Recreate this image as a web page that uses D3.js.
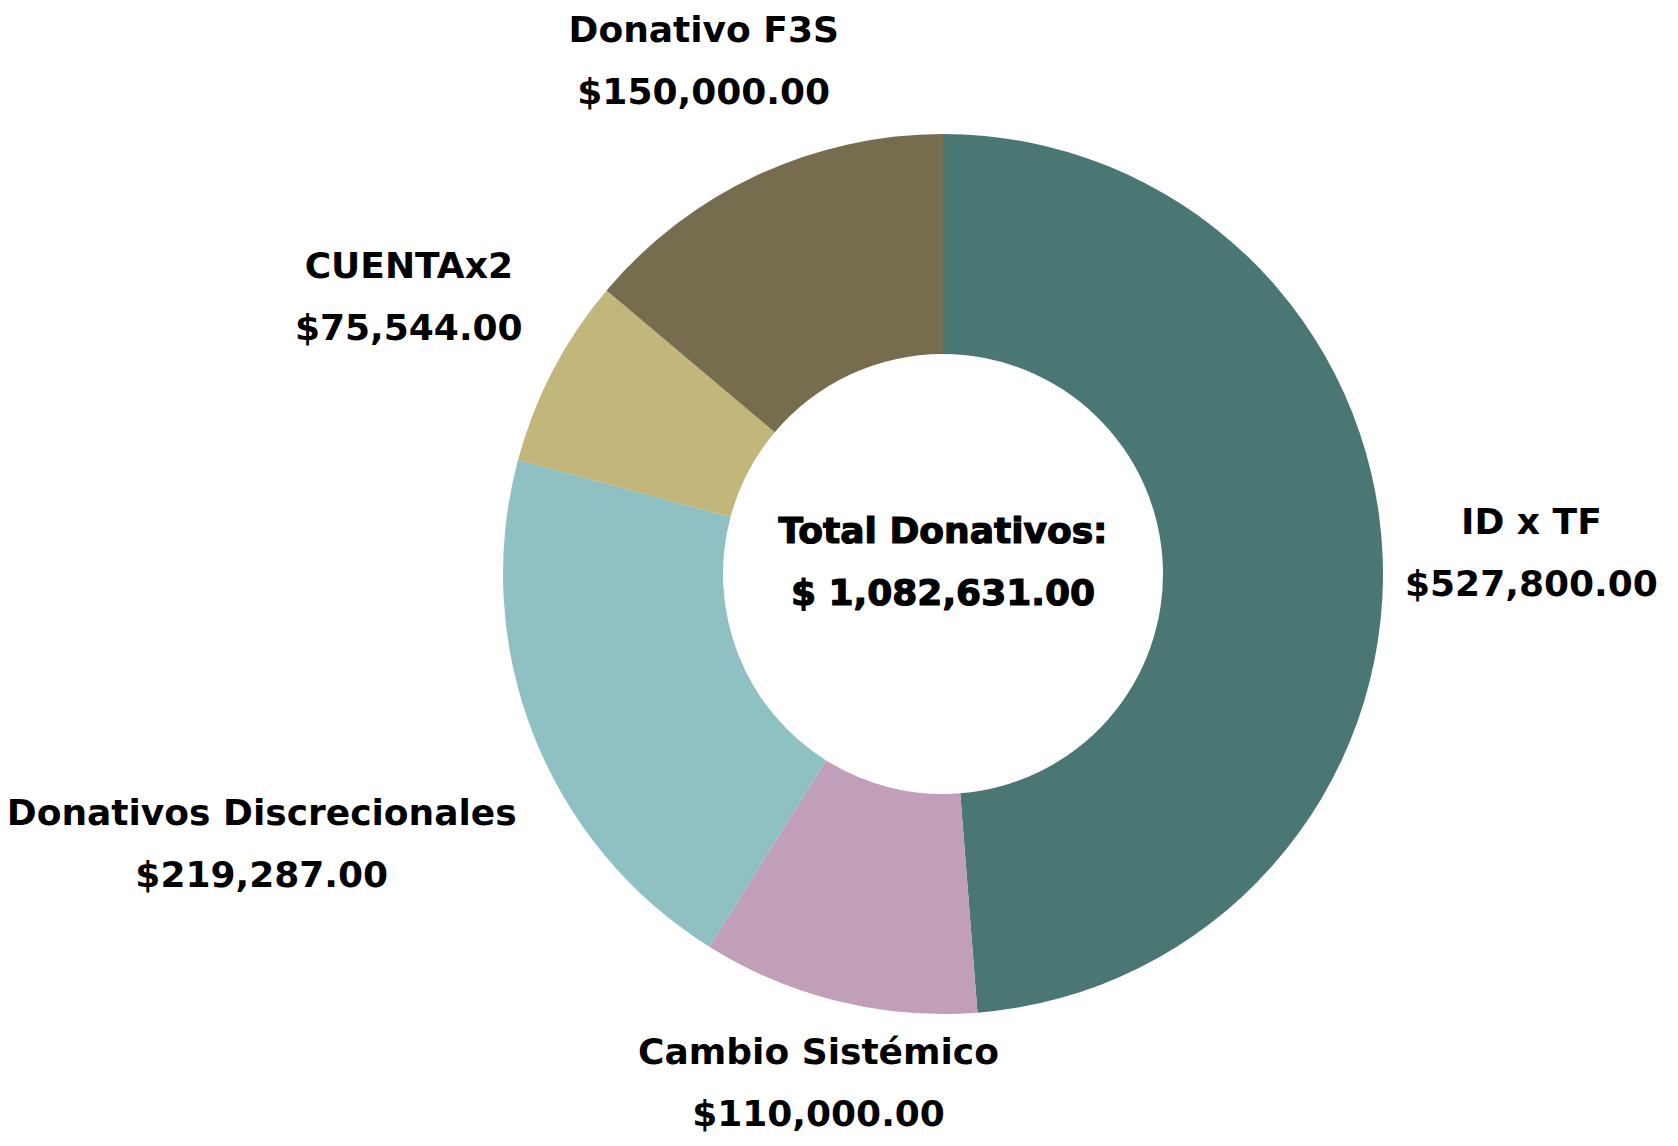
<!DOCTYPE html>
<html>
<head>
<meta charset="utf-8">
<script src="https://cdn.jsdelivr.net/npm/d3@7"></script>
<style>
  html, body { margin: 0; padding: 0; background: #fff; }
  svg text { font-family: "DejaVu Sans", "Noto Sans", sans-serif; fill: #000; font-weight: bold; }
</style>
</head>
<body>
<div id="chart"></div>
<script>
// data
var categories = ["ID x TF", "Cambio Sistémico", "Donativos Discrecionales", "CUENTAx2", "Donativo F3S"];
var amounts = [527800, 110000, 219287, 75544, 150000];
var sliceColors = ["#4a7674", "#c29fb8", "#8fc0c4", "#c3b67a", "#756d4e"];
var centerTitle = "Total Donativos:";

var width = 1678, height = 1146;
var cx = 943, cy = 574;
var outerR = 440, innerR = 220;
// label clearance from the ring: smaller when the box faces it with a side, larger at a corner
var edgeGap = 22, cornerGap = 41;
var lineGap = 62, blockHalf = 45;

var money = d3.format(",.2f");

var svg = d3.select("#chart").append("svg")
    .attr("width", width).attr("height", height)
    .attr("viewBox", "0 0 " + width + " " + height);

var g = svg.append("g").attr("transform", "translate(" + cx + "," + cy + ")");

var rows = categories.map(function(c, i) { return {name: c, value: amounts[i], color: sliceColors[i]}; });

var pie = d3.pie().value(function(d) { return d.value; }).sort(null);
var arc = d3.arc().innerRadius(innerR).outerRadius(outerR);
var arcs = pie(rows);

g.selectAll("path.slice").data(arcs).enter().append("path")
    .attr("class", "slice")
    .attr("d", arc)
    .style("fill", function(d) { return d.data.color; });

// two-line labels, pushed out along the slice mid-angle
var labels = g.selectAll("g.lbl").data(arcs).enter().append("g").attr("class", "lbl");
labels.append("text").attr("text-anchor", "middle").attr("y", blockHalf - lineGap)
    .style("font-size", "36px")
    .text(function(d) { return d.data.name; });
labels.append("text").attr("text-anchor", "middle").attr("y", blockHalf)
    .style("font-size", "36px")
    .text(function(d) { return "$" + money(d.data.value); });

labels.each(function(d) {
    var bb = this.getBBox();
    var a = (d.startAngle + d.endAngle) / 2;
    var ux = Math.sin(a), uy = -Math.cos(a);
    function clearance(dist) {
        var x0 = ux * dist + bb.x, x1 = x0 + bb.width;
        var y0 = uy * dist - blockHalf, y1 = uy * dist + blockHalf;
        var nx = Math.max(x0, Math.min(0, x1));
        var ny = Math.max(y0, Math.min(0, y1));
        var corner = (nx !== 0) && (ny !== 0);
        return Math.sqrt(nx * nx + ny * ny) - (corner ? cornerGap : edgeGap);
    }
    var lo = 0, hi = 1200;
    for (var k = 0; k < 40; k++) {
        var mid = (lo + hi) / 2;
        if (clearance(mid) < outerR) lo = mid; else hi = mid;
    }
    d3.select(this).attr("transform", "translate(" + (ux * hi) + "," + (uy * hi) + ")");
});

// centre total
var total = d3.sum(amounts);
g.append("text").attr("text-anchor", "middle").attr("y", -31)
    .style("font-size", "36px").style("stroke", "#000").style("stroke-width", 1.2)
    .text(centerTitle);
g.append("text").attr("text-anchor", "middle").attr("y", 31)
    .style("font-size", "36px").style("stroke", "#000").style("stroke-width", 1.2)
    .text("$ " + money(total));
</script>
</body>
</html>
